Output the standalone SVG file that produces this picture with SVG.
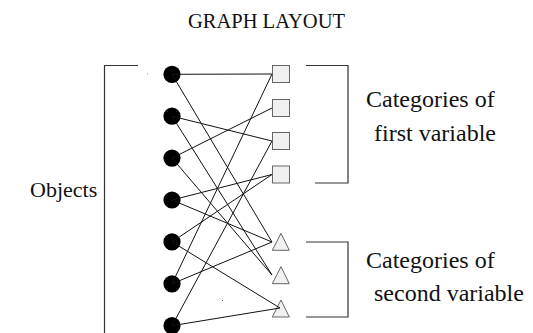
<svg xmlns="http://www.w3.org/2000/svg" width="533" height="333" viewBox="0 0 533 333">
<style>
text{font-family:"Liberation Serif","Times New Roman",serif;fill:#111}
.t{font-size:20.5px}
.l{font-size:24px}
.o{font-size:22px}
.obj{fill:#000}
.cat{fill:#f0f0f0;stroke:#666;stroke-width:1}
.e line{stroke:#111;stroke-width:1}
.br{fill:none;stroke:#333;stroke-width:1.2}
</style>
<rect width="533" height="333" fill="#fff"/>
<text class="t" x="266.5" y="28" text-anchor="middle">GRAPH LAYOUT</text>
<g id="brackets">
<path class="br" d="M138,65.5H104.5V333"/>
<path class="br" d="M306,65.5H348V183H315"/>
<path class="br" d="M306,242H348V317H306"/>
</g>
<g id="labels">
<text class="o" x="30" y="197">Objects</text>
<text class="l" x="366" y="107">Categories of</text>
<text class="l" x="374" y="141">first variable</text>
<text class="l" x="366" y="268">Categories of</text>
<text class="l" x="374" y="301">second variable</text>
</g>
<g id="o1"><circle class="obj" cx="172" cy="74.3" r="8.6"/></g>
<g id="o2"><circle class="obj" cx="172" cy="116.2" r="8.6"/></g>
<g id="o3"><circle class="obj" cx="172" cy="158.1" r="8.6"/></g>
<g id="o4"><circle class="obj" cx="172" cy="200" r="8.6"/></g>
<g id="o5"><circle class="obj" cx="172" cy="241.9" r="8.6"/></g>
<g id="o6"><circle class="obj" cx="172" cy="283.8" r="8.6"/></g>
<g id="o7"><circle class="obj" cx="172" cy="325.7" r="8.6"/></g>
<g id="s1"><rect class="cat" x="272.5" y="65.5" width="17" height="17"/></g>
<g id="s2"><rect class="cat" x="272.5" y="99.5" width="17" height="17"/></g>
<g id="s3"><rect class="cat" x="272.5" y="132.5" width="17" height="17"/></g>
<g id="s4"><rect class="cat" x="272.5" y="166" width="17" height="17"/></g>
<g id="t1"><polygon class="cat" points="281,233.3 272.3,250.3 289.3,250.3"/></g>
<g id="t2"><polygon class="cat" points="281,266.7 272.3,283.7 289.3,283.7"/></g>
<g id="t3"><polygon class="cat" points="281,300 272.3,317 289.3,317"/></g>
<g id="connectors" class="e">
<line x1="172" y1="74.3" x2="272" y2="74"/>
<line x1="172" y1="74.3" x2="272" y2="242"/>
<line x1="172" y1="116.2" x2="272" y2="141"/>
<line x1="172" y1="116.2" x2="272" y2="275"/>
<line x1="172" y1="158.1" x2="272" y2="108"/>
<line x1="172" y1="158.1" x2="272" y2="275"/>
<line x1="172" y1="200" x2="272" y2="174.5"/>
<line x1="172" y1="200" x2="272" y2="242"/>
<line x1="172" y1="241.9" x2="272" y2="174.5"/>
<line x1="172" y1="241.9" x2="280" y2="308"/>
<line x1="172" y1="283.8" x2="272" y2="74"/>
<line x1="172" y1="283.8" x2="272" y2="242"/>
<line x1="172" y1="325.7" x2="272" y2="141"/>
<line x1="172" y1="325.7" x2="280" y2="308"/>
</g>
<rect x="147" y="73.5" width="1" height="1" fill="#999"/>
<rect x="222" y="300" width="1" height="1" fill="#444"/>
</svg>
